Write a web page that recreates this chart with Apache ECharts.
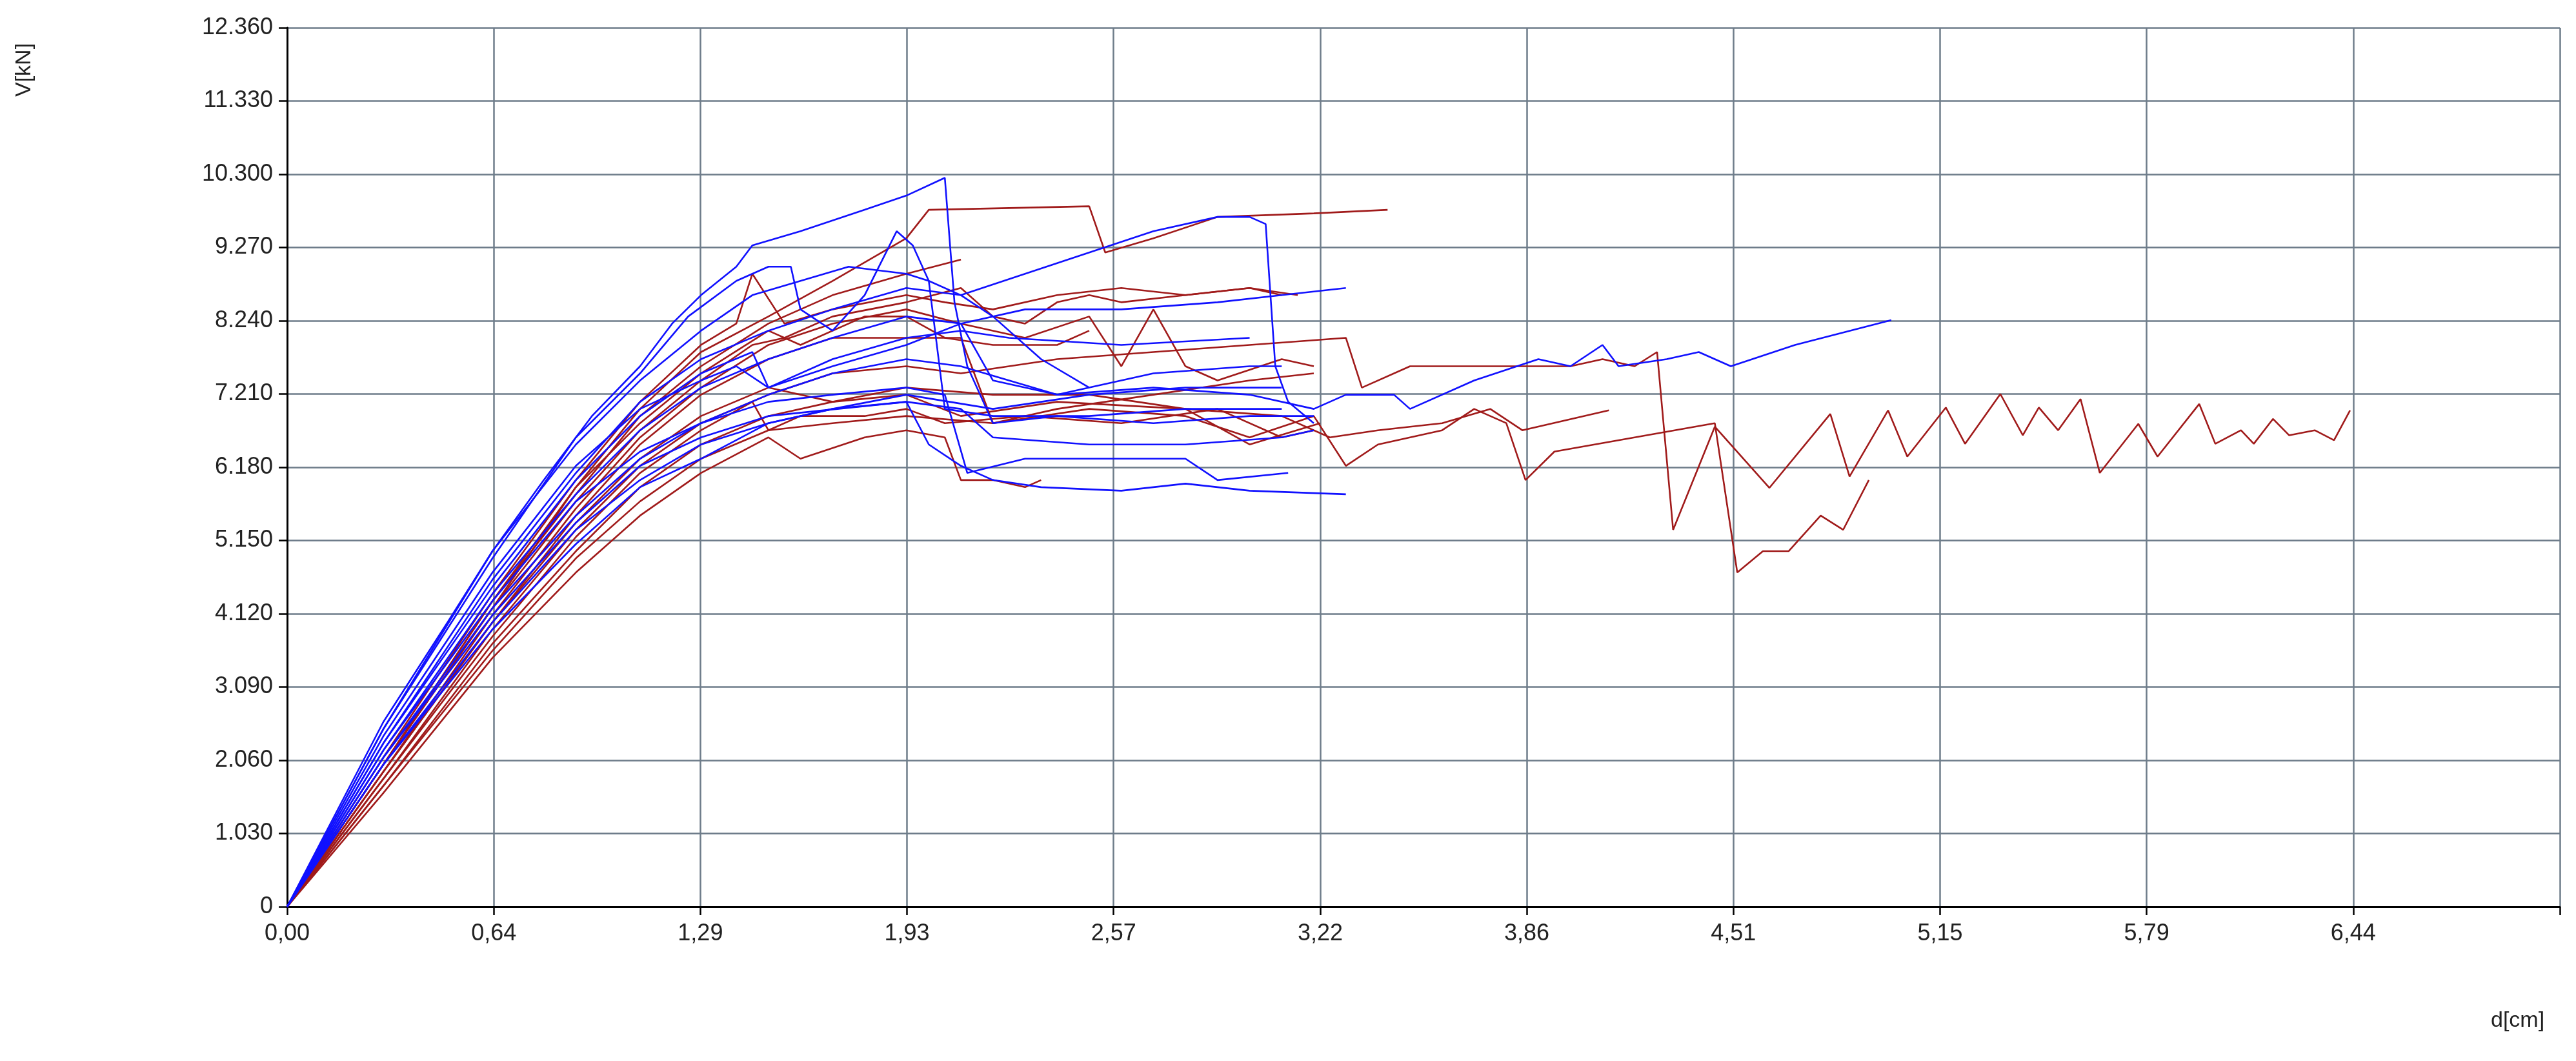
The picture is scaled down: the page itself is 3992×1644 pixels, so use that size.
<!DOCTYPE html>
<html><head><meta charset="utf-8">
<script src="https://cdn.jsdelivr.net/npm/echarts@6/dist/echarts.min.js"></script>
<style>html,body{margin:0;padding:0;background:#fff}#c{width:3992px;height:1644px}</style>
</head><body><div id="c"></div>
<script>
const xAxisTitle = 'd[cm]';
const yAxisTitle = 'V[kN]';
const xTickLabels=['0,00','0,64','1,29','1,93','2,57','3,22','3,86','4,51','5,15','5,79','6,44'];
const blue1=[[0,0],[0.15,1.3],[0.3,2.6],[0.5,4.0],[0.64,5.0],[0.8,6.0],[0.95,6.9],[1.1,7.6],[1.2,8.2],[1.29,8.6],[1.4,9.0],[1.45,9.3],[1.6,9.5],[1.8,9.8],[1.93,10.0],[2.05,10.25],[2.08,8.5],[2.12,7.6],[2.2,6.8],[2.4,6.9],[2.7,6.8],[3.0,6.9],[3.2,6.9]];
const blue2=[[0,0],[0.3,2.5],[0.64,4.9],[0.9,6.6],[1.1,7.5],[1.25,8.3],[1.4,8.8],[1.5,9.0],[1.57,9.0],[1.6,8.4],[1.7,8.1],[1.8,8.6],[1.9,9.5],[1.95,9.3],[2.0,8.8],[2.1,8.6],[2.2,8.3],[2.35,7.7],[2.5,7.3]];
const blue3=[[0,0],[0.3,2.3],[0.64,4.6],[0.9,6.1],[1.1,7.1],[1.29,7.7],[1.5,8.1],[1.7,8.4],[1.93,8.7],[2.1,8.6],[2.3,8.9],[2.5,9.2],[2.7,9.5],[2.9,9.7],[3.0,9.7],[3.05,9.6],[3.08,7.6],[3.12,7.1],[3.2,6.8]];
const blue4=[[0,0],[0.3,2.2],[0.64,4.4],[0.9,5.8],[1.1,6.7],[1.29,7.3],[1.5,7.7],[1.7,8.0],[1.93,8.3],[2.1,8.2],[2.3,8.4],[2.6,8.4],[2.9,8.5],[3.1,8.6],[3.3,8.7]];
const blue5=[[0,0],[0.3,2.1],[0.64,4.2],[0.9,5.5],[1.1,6.3],[1.29,6.8],[1.5,7.2],[1.7,7.5],[1.93,7.7],[2.1,7.6],[2.4,7.2],[2.7,7.3],[3.0,7.2],[3.2,7.0],[3.3,7.2],[3.45,7.2],[3.5,7.0],[3.7,7.4],[3.9,7.7],[4.0,7.6],[4.1,7.9],[4.15,7.6],[4.3,7.7],[4.4,7.8],[4.5,7.6],[4.7,7.9],[5.0,8.25]];
const blue6=[[0,0],[0.3,2.0],[0.64,4.0],[0.9,5.3],[1.1,6.0],[1.29,6.5],[1.5,6.8],[1.7,7.0],[1.93,7.1],[2.0,6.5],[2.1,6.2],[2.2,6.0],[2.35,5.9],[2.6,5.85],[2.8,5.95],[3.0,5.85],[3.3,5.8]];
const blue7=[[0,0],[0.3,2.2],[0.64,4.3],[0.9,5.7],[1.1,6.4],[1.29,6.8],[1.5,7.1],[1.7,7.2],[1.93,7.3],[2.05,7.2],[2.12,6.1],[2.3,6.3],[2.5,6.3],[2.8,6.3],[2.9,6.0],[3.12,6.1]];
const blue8=[[0,0],[0.3,2.4],[0.64,4.7],[0.9,6.2],[1.1,7.0],[1.29,7.4],[1.4,7.6],[1.5,7.3],[1.7,7.6],[1.93,7.9],[2.1,8.2],[2.2,7.4],[2.4,7.2],[2.7,7.5],[3.0,7.6],[3.1,7.6]];
const blue9=[[0,0],[0.3,2.1],[0.64,4.1],[0.9,5.4],[1.1,6.2],[1.29,6.6],[1.5,6.9],[1.93,7.1],[2.1,7.0],[2.2,6.6],[2.5,6.5],[2.8,6.5],[3.1,6.6],[3.2,6.7]];
const blue10=[[0,0],[0.3,2.5],[0.64,5.0],[0.9,6.5],[1.1,7.4],[1.29,8.1],[1.45,8.6],[1.6,8.8],[1.75,9.0],[1.93,8.9],[2.0,8.8],[2.05,7.0],[2.2,6.9],[2.5,6.9],[2.8,7.0],[3.1,7.0]];
const blue11=[[0,0],[0.3,2.3],[0.64,4.5],[0.9,6.0],[1.1,6.9],[1.29,7.5],[1.45,7.8],[1.5,7.3],[1.7,7.7],[1.93,8.0],[2.1,8.1],[2.25,8.0],[2.6,7.9],[3.0,8.0]];
const blue12=[[0,0],[0.3,2.0],[0.64,3.9],[0.9,5.1],[1.1,5.9],[1.29,6.3],[1.5,6.8],[1.7,7.0],[1.93,7.2],[2.2,7.0],[2.5,7.2],[2.8,7.3],[3.1,7.3]];
const red1=[[0,0],[0.3,2.0],[0.64,4.2],[0.9,5.9],[1.1,7.0],[1.29,7.8],[1.5,8.3],[1.7,8.8],[1.93,9.4],[2.0,9.8],[2.5,9.85],[2.55,9.2],[2.7,9.4],[2.9,9.7],[3.2,9.75],[3.43,9.8]];
const red2=[[0,0],[0.3,1.8],[0.64,3.9],[0.9,5.3],[1.1,6.2],[1.29,6.8],[1.5,7.2],[1.7,7.5],[1.93,7.6],[2.1,7.5],[2.4,7.7],[2.7,7.8],[3.0,7.9],[3.3,8.0],[3.35,7.3],[3.5,7.6],[3.7,7.6],[3.86,7.6],[4.0,7.6],[4.1,7.7],[4.2,7.6],[4.27,7.8],[4.32,5.3],[4.45,6.75],[4.62,5.89],[4.81,6.93],[4.87,6.05],[4.99,6.98],[5.05,6.33],[5.17,7.02],[5.23,6.51],[5.34,7.21],[5.41,6.63],[5.46,7.02],[5.52,6.70],[5.59,7.14],[5.65,6.10],[5.77,6.79],[5.83,6.33],[5.96,7.07],[6.01,6.51],[6.09,6.70],[6.13,6.51],[6.19,6.86],[6.24,6.63],[6.32,6.70],[6.38,6.56],[6.43,6.98]];
const red3=[[0,0],[0.3,1.7],[0.64,3.6],[0.9,4.9],[1.1,5.7],[1.29,6.3],[1.5,6.7],[1.7,6.8],[1.93,6.9],[2.2,6.8],[2.5,7.0],[2.8,6.9],[3.0,6.6],[3.2,6.9],[3.3,6.2],[3.4,6.5],[3.6,6.7],[3.7,7.0],[3.8,6.8],[3.86,6.0],[3.95,6.4],[4.2,6.6],[4.45,6.8],[4.52,4.7],[4.6,5.0],[4.68,5.0],[4.78,5.5],[4.85,5.3],[4.93,6.0]];
const red4=[[0,0],[0.3,1.9],[0.64,4.0],[0.9,5.4],[1.1,6.3],[1.29,6.9],[1.5,7.3],[1.7,7.1],[1.93,7.2],[2.1,6.9],[2.4,7.1],[2.8,7.0],[3.1,6.9],[3.25,6.6],[3.4,6.7],[3.6,6.8],[3.75,7.0],[3.85,6.7],[4.12,6.98]];
const red5=[[0,0],[0.3,2.1],[0.64,4.4],[0.9,6.0],[1.1,7.1],[1.29,7.9],[1.4,8.2],[1.45,8.9],[1.55,8.2],[1.7,8.4],[1.93,8.6],[2.05,8.5],[2.2,8.4],[2.4,8.6],[2.6,8.7],[2.8,8.6],[3.0,8.7],[3.1,8.6]];
const red6=[[0,0],[0.3,2.0],[0.64,4.3],[0.9,5.8],[1.1,6.9],[1.29,7.6],[1.5,8.2],[1.7,8.6],[1.93,8.9],[2.1,9.1]];
const red7=[[0,0],[0.3,1.9],[0.64,4.1],[0.9,5.6],[1.1,6.6],[1.29,7.3],[1.5,7.9],[1.7,8.2],[1.93,8.4],[2.1,8.2],[2.3,8.0],[2.5,8.3],[2.6,7.6],[2.7,8.4],[2.8,7.6],[2.9,7.4],[3.1,7.7],[3.2,7.6]];
const red8=[[0,0],[0.3,1.8],[0.64,3.8],[0.9,5.2],[1.1,6.1],[1.29,6.7],[1.45,7.1],[1.5,6.7],[1.6,6.9],[1.8,6.9],[1.93,7.0],[2.05,6.8],[2.3,6.9],[2.6,6.8],[2.9,7.0],[3.1,6.6],[3.2,6.7]];
const red9=[[0,0],[0.3,1.6],[0.64,3.5],[0.9,4.7],[1.1,5.5],[1.29,6.1],[1.5,6.6],[1.6,6.3],[1.8,6.6],[1.93,6.7],[2.05,6.6],[2.1,6.0],[2.2,6.0],[2.3,5.9],[2.35,6.0]];
const red10=[[0,0],[0.3,2.0],[0.64,4.2],[0.9,5.7],[1.1,6.7],[1.29,7.4],[1.45,7.9],[1.55,8.0],[1.7,8.3],[1.93,8.5],[2.1,8.7],[2.2,8.3],[2.3,8.2],[2.4,8.5],[2.5,8.6],[2.6,8.5],[2.8,8.6],[3.0,8.7],[3.15,8.6]];
const red11=[[0,0],[0.3,1.9],[0.64,4.0],[0.9,5.5],[1.1,6.5],[1.29,7.2],[1.5,7.7],[1.7,8.0],[1.93,8.0],[2.1,8.0],[2.2,6.8],[2.4,7.0],[2.7,7.2],[3.0,7.4],[3.2,7.5]];
const red12=[[0,0],[0.3,1.7],[0.64,3.7],[0.9,5.0],[1.1,5.9],[1.29,6.5],[1.5,6.9],[1.7,7.1],[1.93,7.3],[2.2,7.2],[2.5,7.2],[2.8,7.0],[3.0,6.5],[3.22,6.8]];
const red13=[[0,0],[0.3,2.0],[0.64,4.3],[0.9,5.9],[1.1,6.8],[1.29,7.5],[1.5,8.1],[1.6,7.9],[1.8,8.3],[1.93,8.3],[2.05,8.0],[2.2,7.9],[2.4,7.9],[2.5,8.1]];

const blueSeries=[blue1,blue2,blue3,blue4,blue5,blue6,blue7,blue8,blue9,blue10,blue11,blue12];
const redSeries=[red1,red2,red3,red4,red5,red6,red7,red8,red9,red10,red11,red12,red13];

const BLUE='#1010ff', RED='#a01a1a';
const series=[];
redSeries.forEach((d,i)=>series.push({name:'r'+i,type:'line',data:d,showSymbol:false,symbol:'none',lineStyle:{color:RED,width:2.6},z:2}));
blueSeries.forEach((d,i)=>series.push({name:'b'+i,type:'line',data:d,showSymbol:false,symbol:'none',lineStyle:{color:BLUE,width:2.6},z:3}));

const chart=echarts.init(document.getElementById('c'));
const font='"Liberation Sans", "DejaVu Sans", sans-serif';
chart.setOption({
  animation:false,
  backgroundColor:'#fff',
  grid:{left:445,right:25,top:43,bottom:239},
  xAxis:{type:'value',min:0,max:7.084,interval:0.644,
    axisLine:{lineStyle:{color:'#000',width:3}},
    axisTick:{show:true,length:13,lineStyle:{color:'#000',width:2.5}},
    axisLabel:{margin:24,fontSize:36,color:'#222',fontFamily:font,
      formatter:v=>{const i=Math.round(v/0.644);return xTickLabels[i]||'';}},
    splitLine:{show:true,lineStyle:{color:'#6e7c8a',width:2.5}}},
  yAxis:{type:'value',min:0,max:12.36,interval:1.03,
    axisLine:{show:true,lineStyle:{color:'#000',width:3}},
    axisTick:{show:true,length:13,lineStyle:{color:'#000',width:2.5}},
    axisLabel:{margin:22,fontSize:36,color:'#222',fontFamily:font,
      formatter:v=>v===0?'0':v.toFixed(3)},
    splitLine:{show:true,lineStyle:{color:'#6e7c8a',width:2.5}}},
  graphic:[
    {type:'text',left:3860,top:1565,style:{text:xAxisTitle,fontSize:34,fill:'#222',fontFamily:font}},
    {type:'text',x:38,y:150,rotation:Math.PI/2,style:{text:yAxisTitle,fontSize:34,fill:'#222',fontFamily:font,align:'left',verticalAlign:'middle'}}
  ],
  series:series
});
</script></body></html>
